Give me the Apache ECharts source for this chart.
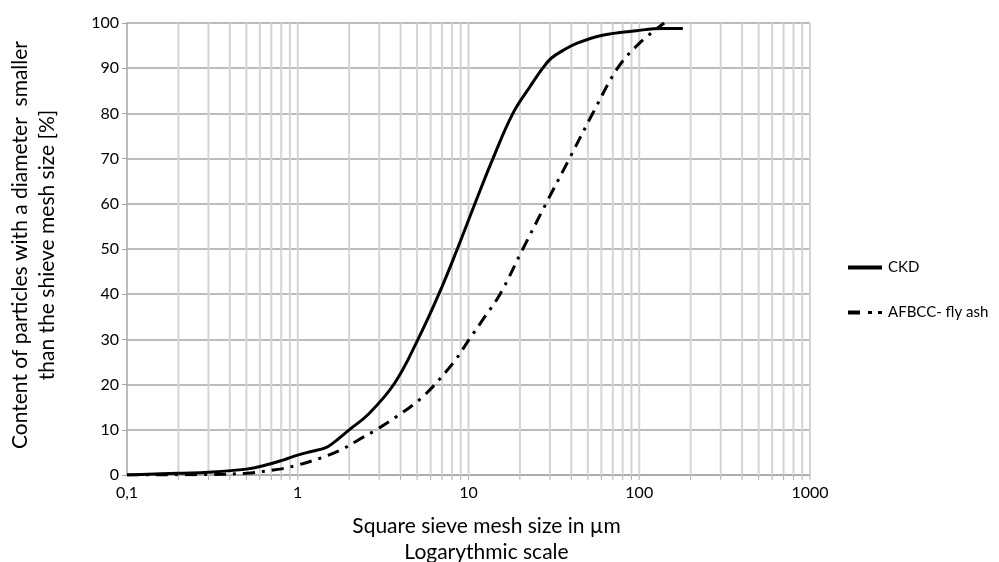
<!DOCTYPE html>
<html>
<head>
<meta charset="utf-8">
<script src="https://cdn.jsdelivr.net/npm/echarts@6/dist/echarts.min.js"></script>
<style>html,body{margin:0;padding:0;background:#fff}#c{width:999px;height:562px}</style>
</head>
<body>
<div id="c"></div>
<script>
// CKD particle size distribution (x: mesh size µm, y: % passing)
var ckdX = [0.1, 0.2, 0.3, 0.5, 0.65, 0.82, 1.0, 1.2, 1.45, 1.6, 2.0, 2.6, 3.69, 5.06, 6.7, 8.6, 10.9, 13.9, 18.2, 23.0, 27.2, 30.5, 36, 43, 61, 96, 137, 180];
var ckdY = [0, 0.4, 0.6, 1.3, 2.2, 3.3, 4.4, 5.2, 6.0, 7.0, 10.0, 13.5, 20.3, 30.0, 40.0, 50.0, 60.0, 70.0, 80.0, 86.0, 90.0, 92.2, 94.0, 95.5, 97.3, 98.3, 98.8, 98.8];
// AFBCC fly ash
var flyX = [0.1, 0.3, 0.5, 0.78, 1.0, 1.35, 1.78, 2.25, 2.88, 3.78, 5.4, 8.1, 10.1, 12.1, 15.3, 20.8, 28.4, 39.0, 53.4, 74.6, 100, 140];
var flyY = [0, 0.1, 0.4, 1.3, 2.2, 3.7, 5.5, 7.7, 10.0, 12.9, 17.3, 24.7, 30.0, 34.3, 40.0, 50.0, 60.0, 70.0, 80.0, 90.0, 95.5, 100];
var seriesNames = ['CKD', 'AFBCC- fly ash'];
var xTicks = [0.1, 1, 10, 100, 1000];
var yTicks = [0, 10, 20, 30, 40, 50, 60, 70, 80, 90, 100];
var minorGrid = [];
[0.1, 1, 10, 100].forEach(function (d) {
  for (var k = 2; k <= 10; k++) minorGrid.push(+(d * k).toPrecision(3));
});

var FONT = 'Lato';
function zip(a, b) { return a.map(function (v, i) { return [v, b[i]]; }); }

var chart = echarts.init(document.getElementById('c'), null, {renderer: 'canvas'});
chart.setOption({
  animation: false,
  textStyle: {fontFamily: FONT},
  grid: {left: 127, right: 189, top: 23, bottom: 87, containLabel: false, outerBoundsMode: 'none'},
  legend: {
    orient: 'vertical', left: 843, top: 255, itemGap: 30,
    itemWidth: 34, itemHeight: 4,
    textStyle: {fontFamily: FONT, fontSize: 15, color: '#000', padding: [0, 0, 0, 1]},
    data: [
      {name: seriesNames[0], icon: 'path://M0,0H34V4H0Z'},
      {name: seriesNames[1], icon: 'path://M0,0H12V4H0Z M20,0.5H24V3.5H20Z M30,0.5H34V3.5H30Z'}
    ]
  },
  xAxis: {
    type: 'log', logBase: 10, min: xTicks[0], max: xTicks[xTicks.length - 1],
    name: 'Square sieve mesh size in µm\nLogarythmic scale',
    nameLocation: 'middle', nameGap: 38,
    nameTextStyle: {fontFamily: FONT, fontSize: 21, color: '#000', lineHeight: 26, padding: [0, 0, 0, 36]},
    axisLine: {lineStyle: {color: '#a6a6a6', width: 1.5}},
    axisTick: {show: false},
    splitLine: {show: false},
    axisLabel: {
      fontFamily: FONT, fontSize: 16, color: '#000', margin: 10,
      formatter: function (v) { return String(v).replace('.', ','); }
    }
  },
  yAxis: {
    type: 'value', min: yTicks[0], max: yTicks[yTicks.length - 1], interval: 10,
    name: 'Content of particles with a diameter  smaller\nthan the shieve mesh size [%]',
    nameLocation: 'middle', nameGap: 66, nameRotate: 90,
    nameTextStyle: {fontFamily: FONT, fontSize: 21, color: '#000', lineHeight: 27, padding: [0, 0, 0, 8]},
    axisLine: {show: true, lineStyle: {color: '#a6a6a6', width: 1.5}},
    axisTick: {show: true, inside: false, length: 5, lineStyle: {color: '#a6a6a6'}},
    splitLine: {show: true, lineStyle: {color: '#a6a6a6', width: 1.5}},
    axisLabel: {fontFamily: FONT, fontSize: 16, color: '#000', margin: 8}
  },
  series: [
    {
      type: 'custom', name: 'grid', silent: true, z: 1, clip: false,
      data: minorGrid.map(function (v) { return [v]; }),
      encode: {x: 0},
      renderItem: function (params, api) {
        var v = api.value(0);
        var p0 = api.coord([v, 0]);
        var p1 = api.coord([v, 100]);
        return {
          type: 'group', children: [
            {type: 'line', shape: {x1: p0[0], y1: p0[1], x2: p1[0], y2: p1[1]},
             style: {stroke: '#d4d4d4', lineWidth: 2}},
            {type: 'line', shape: {x1: p0[0], y1: p0[1], x2: p0[0], y2: p0[1] + 5},
             style: {stroke: '#b0b0b0', lineWidth: 1}}
          ]
        };
      }
    },
    {
      name: seriesNames[0], type: 'line', data: zip(ckdX, ckdY), smooth: 0.4,
      showSymbol: false, symbol: 'none', z: 5,
      lineStyle: {color: '#000', width: 3}, itemStyle: {color: '#000'}
    },
    {
      name: seriesNames[1], type: 'line', data: zip(flyX, flyY), smooth: 0.35,
      showSymbol: false, symbol: 'none', z: 5,
      lineStyle: {color: '#000', width: 3, type: [12, 7, 3, 7], cap: 'butt'}, itemStyle: {color: '#000'}
    }
  ]
});
</script>
</body>
</html>
